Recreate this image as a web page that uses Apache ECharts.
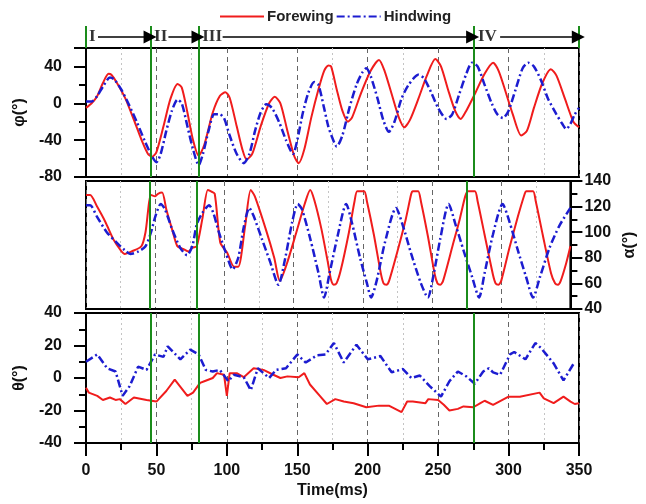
<!DOCTYPE html>
<html>
<head>
<meta charset="utf-8">
<script src="https://cdn.jsdelivr.net/npm/echarts@6/dist/echarts.min.js"></script>
<style>
  html, body { margin: 0; padding: 0; background: #fff; }
  #chart { width: 646px; height: 504px; }
</style>
</head>
<body>
<div id="chart"></div>
<script>
// series names
var seriesNames = ['Forewing', 'Hindwing'];

// phi (stroke angle), [time ms, deg]
var forewingPhi = [[0,-5],[4,0],[8,8],[12,22],[16,32],[18,31],[22,22],[28,5],[34,-18],[40,-42],[44,-55],[47,-58],[50,-53],[55,-25],[60,5],[65,21],[68,17],[72,-10],[76,-40],[80,-57],[84,-45],[90,-10],[95,8],[99,12],[102,6],[107,-25],[111,-50],[114,-61],[118,-55],[124,-25],[130,0],[134,7],[138,0],[143,-30],[148,-58],[151,-65],[155,-50],[160,-15],[165,15],[169,35],[172,41],[174,40],[178,15],[182,-8],[186,-20],[189,-15],[195,10],[202,35],[208,47],[212,35],[217,10],[222,-15],[226,-26],[230,-18],[236,5],[242,30],[248,48],[252,40],[257,15],[262,-8],[266,-17],[270,-8],[276,10],[283,32],[289,44],[293,35],[298,12],[303,-12],[309,-35],[313,-30],[318,-5],[324,22],[330,37],[334,30],[340,5],[346,-20],[350,-26]];
var hindwingPhi = [[0,2],[4,2],[8,8],[12,18],[17,28],[20,26],[25,15],[30,0],[36,-20],[42,-42],[47,-58],[50,-64],[53,-55],[57,-30],[61,-8],[65,4],[68,0],[72,-25],[76,-50],[80,-67],[83,-55],[87,-30],[91,-12],[95,-12],[98,-16],[102,-35],[107,-55],[112,-65],[116,-55],[120,-30],[124,-10],[128,-1],[132,-5],[137,-20],[142,-40],[147,-55],[150,-40],[154,-10],[158,12],[162,23],[165,20],[169,-5],[172,-25],[175,-38],[178,-47],[182,-35],[187,-5],[192,20],[196,33],[199,38],[202,30],[207,5],[211,-18],[215,-31],[219,-20],[224,5],[229,20],[236,31],[240,27],[245,12],[250,-5],[256,-17],[260,-12],[265,10],[270,32],[274,44],[278,40],[283,20],[288,0],[292,-12],[296,-16],[300,-8],[305,15],[310,38],[314,44],[318,40],[323,25],[328,5],[334,-12],[338,-22],[341,-28],[344,-22],[347,-12],[350,-5]];

// alpha (pitch angle)
var forewingAlpha = [[0,129],[3,129],[8,120],[14,108],[20,94],[25,86],[28,83],[33,85],[40,89],[43,100],[47,129],[50,128],[52,130],[55,131],[58,118],[62,103],[66,89],[70,87],[74,85],[77,88],[80,89],[84,110],[88,133],[90,132],[93,130],[97,92],[102,84],[107,73],[110,73],[115,105],[119,133],[122,128],[130,102],[136,80],[140,62],[145,75],[152,100],[158,122],[162,133],[165,125],[170,103],[175,75],[177,63],[179,59],[181,60],[184,70],[190,100],[194,124],[196,132],[201,132],[203,124],[208,98],[213,68],[215,60],[217,59],[219,62],[225,85],[231,110],[235,130],[236,132],[240,132],[242,124],[247,97],[252,67],[254,60],[256,59],[258,62],[265,90],[270,110],[274,128],[276,132],[281,132],[283,124],[288,98],[294,67],[296,60],[298,59],[300,62],[306,88],[312,112],[317,130],[318,132],[323,132],[325,124],[330,98],[336,68],[339,60],[341,59],[343,62],[347,76],[350,89]];
var hindwingAlpha = [[0,121],[3,121],[8,112],[15,100],[22,92],[28,86],[32,83],[38,85],[43,89],[47,100],[50,112],[54,122],[57,118],[62,103],[68,88],[73,82],[77,90],[80,106],[84,115],[89,121],[92,115],[96,100],[101,84],[106,71],[110,80],[114,104],[118,119],[121,113],[127,95],[133,77],[139,59],[144,80],[149,108],[153,122],[156,118],[162,95],[168,68],[172,49],[176,68],[182,98],[188,122],[192,108],[198,80],[203,60],[206,49],[210,62],[216,92],[224,119],[229,105],[235,83],[242,60],[247,49],[251,66],[256,95],[262,122],[267,106],[273,85],[279,65],[284,49],[288,68],[294,98],[301,122],[306,108],[312,86],[318,65],[323,49],[328,65],[335,88],[342,105],[350,119]];

// theta (deviation angle)
var forewingTheta = [[0,-6],[2,-9],[8,-11],[12,-13.5],[17,-12],[21,-13.5],[24,-13],[28,-16],[34,-12],[43,-13.5],[50,-14.5],[57,-8],[63,-1],[72,-11],[76,-9],[81,-3],[84,-2],[90,0],[93,3],[98,2],[100,-11],[102,3],[107,3],[112,0.5],[119,6],[126,5],[133,2],[138,0],[143,1],[151,0.5],[155,3],[159,-4],[166,-11],[171,-16],[177,-13],[183,-14.5],[190,-15.5],[199,-18],[208,-17],[215,-17],[224,-21],[228,-14.5],[232,-14.5],[241,-15.5],[243,-13],[250,-13.5],[254,-16.5],[258,-20],[264,-19],[268,-17.5],[275,-18],[280,-15.5],[283,-14],[289,-16.5],[300,-11.5],[308,-11.5],[322,-9],[325,-12.5],[332,-15.5],[339,-11.5],[344,-14.5],[347,-16],[350,-15.5]];
var hindwingTheta = [[0,10],[8,14.5],[15,6],[21,4],[26,-11],[31,-5],[37,7],[43,5],[49,14.5],[55,13],[58,19.5],[67,11.5],[74,17.5],[80,14.5],[85,5],[90,4],[95,5],[101,-2],[105,2],[112,0.5],[117,-7.5],[122,6],[130,0],[135,5],[142,6],[150,14.5],[156,9.5],[164,14],[170,14.5],[176,21.5],[183,9.5],[192,20.5],[200,11.5],[209,13.5],[217,3.5],[225,5.5],[231,0],[237,1.5],[244,-5],[252,-11.5],[258,-2],[264,4],[270,1],[276,-3.5],[282,4],[286,6],[289,3.5],[294,2],[301,14.5],[304,16],[312,11.5],[319,21.5],[323,18.5],[332,9],[339,-1.5],[347,10]];

// flight phases
var phaseBounds = [0, 46, 80, 275, 350];
var phaseNames = ['I', 'II', 'III', 'IV'];
var phaseLabelAt = [4.5, 53, 89.5, 285];
var arrowFrom = [8.5, 58.5, 97, 294];
var arrowTo = [45.5, 79.5, 274.5, 349.5];

var myChart = echarts.init(document.getElementById('chart'));

var redColor = '#f01c1c'; //前翅
var blueColor = '#1c1cd0'; //后翅
var greenColor = '#1b8c1b';
var txtColor = '#111';
var fontName = '"Liberation Sans", Arial, sans-serif';

var gridLeft = 86, gridRight = 67;

function xAxisOf(gridIndex, showLabel) {
  return {
    type: 'value', gridIndex: gridIndex, min: 0, max: 350, interval: 50,
    show: gridIndex !== 0,
    axisLine: { onZero: false, lineStyle: { color: '#000', width: 2 } },
    axisTick: { show: showLabel, length: 13, lineStyle: { color: '#000', width: 2 } },
    minorTick: { show: showLabel, splitNumber: 2, length: 7, lineStyle: { color: '#000', width: 2 } },
    axisLabel: { show: showLabel, margin: 20, color: txtColor, fontSize: 16, fontWeight: 'bold', fontFamily: fontName },
    splitLine: { show: gridIndex !== 0, lineStyle: { color: '#666', width: 1, type: [5, 4] } },
    minorSplitLine: { show: gridIndex !== 0, lineStyle: { color: '#c4c4c4', width: 1, type: [2, 3] } },
    name: showLabel ? 'Time(ms)' : '',
    nameLocation: 'middle',
    nameGap: 40,
    nameTextStyle: { color: txtColor, fontSize: 16, fontWeight: 'bold', fontFamily: fontName }
  };
}

function yAxisOf(gridIndex, opt) {
  return {
    type: 'value', gridIndex: gridIndex,
    min: opt.min, max: opt.max, interval: opt.interval,
    position: opt.position || 'left',
    name: opt.name, nameLocation: 'middle', nameGap: opt.nameGap,
    nameRotate: 90,
    nameTextStyle: { color: txtColor, fontSize: 16, fontWeight: 'bold', fontFamily: fontName },
    axisLine: { show: true, onZero: false, lineStyle: { color: '#000', width: 2 } },
    axisTick: { show: true, length: 12, lineStyle: { color: '#000', width: 2 } },
    minorTick: { show: true, splitNumber: 2, length: 7, lineStyle: { color: '#000', width: 2 } },
    axisLabel: { margin: opt.margin, showMaxLabel: opt.showMax !== false, color: txtColor, fontSize: 16, fontWeight: 'bold', fontFamily: fontName },
    splitLine: { show: false }
  };
}

var greenMark = {
  silent: true, symbol: 'none', animation: false,
  label: { show: false },
  lineStyle: { color: greenColor, width: 2, type: 'solid' },
  data: phaseBounds.slice(1, 4).map(function (v) { return { xAxis: v }; })
};

function foreSeries(data, idx, withMark) {
  return {
    name: seriesNames[0], type: 'line', xAxisIndex: idx, yAxisIndex: idx,
    data: data, symbol: 'none', smooth: idx === 3 ? false : 0.25,
    lineStyle: { color: redColor, width: 2 }, itemStyle: { color: redColor },
    markLine: withMark ? greenMark : undefined, z: 3
  };
}
function hindSeries(data, idx) {
  return {
    name: seriesNames[1], type: 'line', xAxisIndex: idx, yAxisIndex: idx,
    data: data, symbol: 'none', smooth: idx === 3 ? false : 0.25,
    lineStyle: { color: blueColor, width: 2.5, type: [8, 3, 2, 3] }, itemStyle: { color: blueColor },
    z: 4
  };
}

myChart.setOption({
  backgroundColor: '#fff',
  animation: false,
  legend: {
    data: seriesNames, top: 4, left: 214,
    itemWidth: 44, itemHeight: 14, itemGap: 2,
    itemStyle: { color: 'rgba(0,0,0,0)', borderColor: 'rgba(0,0,0,0)', borderWidth: 0 },
    textStyle: { color: '#222', fontSize: 15, fontWeight: 'bold', fontFamily: fontName, padding: [0, 0, 0, -2] }
  },
  grid: [
    { left: gridLeft, right: gridRight, top: 26, height: 22, show: false },
    { left: gridLeft, right: gridRight, top: 48, height: 129, show: true, borderColor: '#000', borderWidth: 2 },
    { left: gridLeft, right: gridRight, top: 181, height: 128, show: true, borderColor: '#000', borderWidth: 2 },
    { left: gridLeft, right: gridRight, top: 313, height: 130, show: true, borderColor: '#000', borderWidth: 2 }
  ],
  xAxis: [xAxisOf(0, false), xAxisOf(1, false), xAxisOf(2, false), xAxisOf(3, true)],
  yAxis: [
    { type: 'value', gridIndex: 0, min: 0, max: 1, show: false },
    yAxisOf(1, { min: -80, max: 60, interval: 40, name: 'φ(°)', nameGap: 54, margin: 24, showMax: false }),
    yAxisOf(2, { min: 40, max: 140, interval: 20, name: 'α(°)', nameGap: 44, margin: 14, position: 'right' }),
    yAxisOf(3, { min: -40, max: 40, interval: 20, name: 'θ(°)', nameGap: 54, margin: 24 })
  ],
  series: [
    {
      // 阶段划分：绿线 + 箭头
      type: 'line', xAxisIndex: 0, yAxisIndex: 0, data: [], silent: true,
      markLine: {
        silent: true, symbol: 'none', animation: false, label: { show: false },
        lineStyle: { color: greenColor, width: 2, type: 'solid' },
        data: phaseBounds.map(function (v) { return { xAxis: v }; })
      }
    },
    {
      type: 'line', xAxisIndex: 0, yAxisIndex: 0, data: [], silent: true,
      markLine: {
        silent: true, symbol: ['none', 'triangle'], symbolSize: 13, animation: false,
        label: { show: false },
        lineStyle: { color: '#000', width: 1.5, type: 'solid' },
        itemStyle: { color: '#000' },
        data: phaseNames.map(function (n, i) {
          return [{ coord: [arrowFrom[i], 0.5] }, { coord: [arrowTo[i], 0.5] }];
        })
      }
    },
    {
      type: 'scatter', xAxisIndex: 0, yAxisIndex: 0, symbolSize: 0, silent: true,
      data: phaseNames.map(function (n, i) { return { name: n, value: [phaseLabelAt[i], 0.5] }; }),
      label: {
        show: true, position: 'inside', formatter: '{b}',
        color: '#000', fontSize: 17, fontWeight: 'bold', fontFamily: '"Liberation Serif", "Times New Roman", serif'
      }
    },
    foreSeries(forewingPhi, 1, true),
    hindSeries(hindwingPhi, 1),
    foreSeries(forewingAlpha, 2, true),
    hindSeries(hindwingAlpha, 2),
    foreSeries(forewingTheta, 3, true),
    hindSeries(hindwingTheta, 3)
  ]
});
</script>
</body>
</html>
